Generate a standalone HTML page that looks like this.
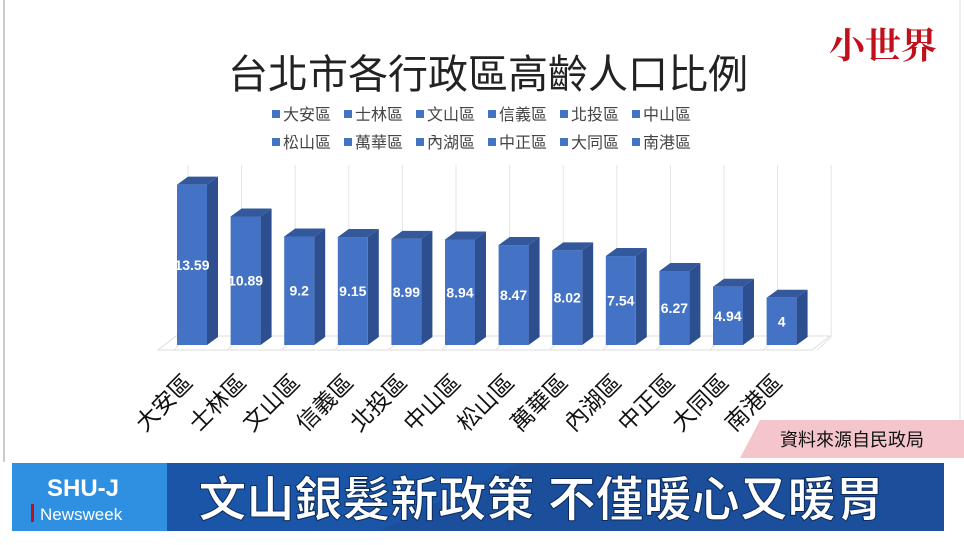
<!DOCTYPE html>
<html><head><meta charset="utf-8"><style>
body{margin:0;width:964px;height:540px;overflow:hidden;background:#fff;font-family:"Liberation Sans","Noto Sans CJK TC",sans-serif}
</style></head><body>
<svg width="964" height="540" xmlns="http://www.w3.org/2000/svg" id="s" font-family="Liberation Sans, Noto Sans CJK TC, sans-serif">
<rect x="0" y="0" width="964" height="540" fill="#fff"/>
<line x1="4" y1="0" x2="4" y2="462" stroke="#bbb" stroke-width="1.5"/>
<line x1="960" y1="0" x2="960" y2="420" stroke="#ddd" stroke-width="1"/>
<text x="488" y="88" font-size="40" text-anchor="middle" fill="#222">台北市各行政區高齡人口比例</text>
<text x="883" y="58" font-size="36" text-anchor="middle" fill="#c0101c" font-family="Noto Serif CJK SC, serif" font-weight="bold">小世界</text>
<g id="leg" font-size="16" fill="#444"></g>
<g id="chart"></g>
<polygon points="760,420 964,420 964,458 740,458" fill="#f4c6cb"/>
<text x="852" y="446" font-size="18" text-anchor="middle" fill="#111">資料來源自民政局</text>
<rect x="12" y="463" width="932" height="68" fill="#1b4f9c"/>
<rect x="12" y="463" width="155" height="68" fill="#2f8fe0"/>
<polygon points="167,463 520,463 380,531 167,531" fill="#1a5aaf" opacity="0.6"/>
<text x="83" y="496" font-size="24" font-weight="bold" text-anchor="middle" fill="#fff">SHU-J</text>
<rect x="31" y="504" width="3" height="18" fill="#c01020"/>
<text x="40" y="520" font-size="17" fill="#fff">Newsweek</text>
<text x="541" y="516" font-size="48" font-weight="bold" text-anchor="middle" fill="#fff" stroke="#0a2a5a" stroke-width="1">文山銀髮新政策 不僅暖心又暖胃</text>
</svg>
<script>
var names=["大安區","士林區","文山區","信義區","北投區","中山區","松山區","萬華區","內湖區","中正區","大同區","南港區"];
var vals=[13.59,10.89,9.2,9.15,8.99,8.94,8.47,8.02,7.54,6.27,4.94,4];
var ns="http://www.w3.org/2000/svg";
function el(t,a,p,txt){var e=document.createElementNS(ns,t);for(var k in a)e.setAttribute(k,a[k]);if(txt!=null)e.textContent=txt;(p||document.getElementById('chart')).appendChild(e);return e;}
var leg=document.getElementById('leg');
var row1=names.slice(0,6),row2=names.slice(6);
[row1,row2].forEach(function(r,ri){var y=ri?148:120;r.forEach(function(n,i){var x=272+i*72;el('rect',{x:x,y:y-10,width:8,height:8,fill:'#4472c4'},leg);el('text',{x:x+11,y:y},leg,n);});});
var c=document.getElementById('chart');
el('polygon',{points:"158,350 812,350 830,336 176,336",fill:"none",stroke:"#ddd","stroke-width":1});
for(var i=0;i<13;i++){var x=176+i*53.6+6;el('line',{x1:x-8,y1:350,x2:x+6,y2:337,stroke:"#e3e3e3"});el('line',{x1:x+6,y1:165,x2:x+6,y2:337,stroke:"#e3e3e3"});}
vals.forEach(function(v,i){
var x=177+i*53.6,w=30,b=345,h=v*11.8,t=b-h,dx=11,dy=8;
el('polygon',{points:[x+w,t,x+w+dx,t-dy,x+w+dx,b-dy,x+w,b].join(','),fill:"#2d4f8f"});
el('polygon',{points:[x,t,x+dx,t-dy,x+w+dx,t-dy,x+w,t].join(','),fill:"#34589c"});
el('rect',{x:x,y:t,width:w,height:h,fill:"#4472c4"});
el('text',{x:x+w/2,y:(t+b)/2+5,"font-size":14,"font-weight":"bold",fill:"#fff","text-anchor":"middle"},c,String(v));
var cx=x+w/2+2,cy=384;
el('text',{x:cx,y:cy,"font-size":23,fill:"#111","text-anchor":"end",transform:"rotate(-45 "+cx+" "+cy+")"},c,names[i]);
});
</script>
</body></html>
